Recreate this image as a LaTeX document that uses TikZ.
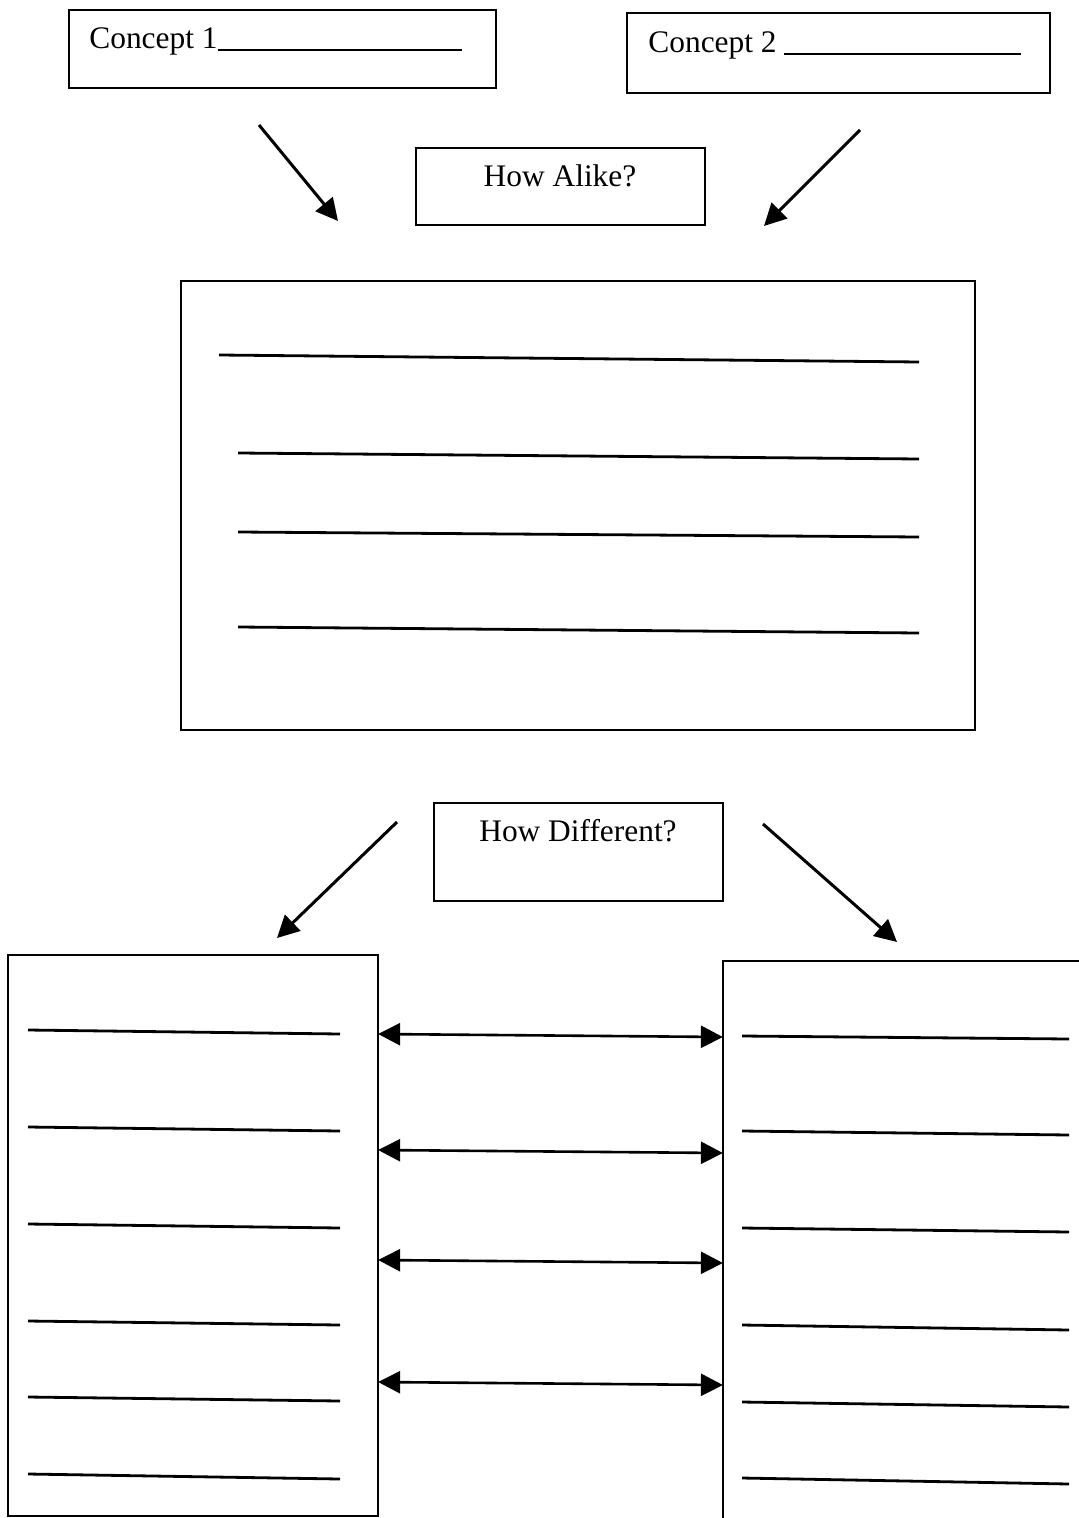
\documentclass[tikz,border=0pt]{standalone}
\usepackage{fontspec}
\setmainfont{Liberation Serif}
\usetikzlibrary{arrows.meta, positioning}

\begin{document}
\begin{tikzpicture}[x=0.5pt, y=-0.5pt, >={Triangle[length=11pt, width=11pt]}]
    \tikzstyle{box} = [draw, line width=1.1pt, inner sep=0pt]
    \tikzstyle{boxtext} = [font=\fontsize{15.7}{18}\selectfont, inner sep=0pt]
    \tikzstyle{pointer} = [->, line width=1.5pt]
    \tikzstyle{writeline} = [line width=1.4pt]
    \fill[white] (0,0) rectangle (1079,1518);
    \useasboundingbox (0,0) rectangle (1079,1518);
    % boxes
    \node [box, minimum width=213.5pt, minimum height=39pt] at (282.5,49) (c1) {};
    \node [box, minimum width=211.5pt, minimum height=40pt] at (838.5,53) (c2) {};
    \node [box, minimum width=144.5pt, minimum height=38.5pt] at (560.5,186.5) (alike) {};
    \node [box, minimum width=397pt, minimum height=224.5pt] at (578,505.5) (same) {};
    \node [box, minimum width=144.5pt, minimum height=49pt] at (578.5,852) (diff) {};
    \node [box, minimum width=185pt, minimum height=280.5pt] at (193,1235.5) (left) {};
    \node [box, minimum width=188.5pt, minimum height=289.5pt] at (911.5,1250.5) (right) {};
    % texts
    \node [boxtext, anchor=base west] at (89,49) (c1text) {Concept 1\rule[-1pt]{122pt}{0.8pt}};
    \node [boxtext, anchor=base west] at (648,53) (c2text) {Concept 2 \rule[-1pt]{118.5pt}{0.8pt}};
    \node [boxtext, anchor=base] at (560,187) (alikelabel) {How Alike?};
    \node [boxtext, anchor=base] at (578,841) (difflabel) {How Different?};
    % arrows
    \coordinate (p1) at (259,125);
    \coordinate (q1) at (338,221);
    \coordinate (p2) at (860,130);
    \coordinate (q2) at (764,226);
    \coordinate (p3) at (397,822);
    \coordinate (q3) at (277,938);
    \coordinate (p4) at (763,824);
    \coordinate (q4) at (897,942);
    \draw[pointer] (p1) -- (q1);
    \draw[pointer] (p2) -- (q2);
    \draw[pointer] (p3) -- (q3);
    \draw[pointer] (p4) -- (q4);
    % lines to write on
    \foreach \ya/\yb/\xa in {355/362/219, 453/459/238, 532/537/238, 627/633/238}
        \draw[writeline] (\xa,\ya) -- (919,\yb);
    \foreach \ya/\yb in {1030/1034, 1127/1131, 1224/1228, 1321/1325, 1397/1401, 1474/1479}
        \draw[writeline] (28,\ya) -- (340,\yb);
    \foreach \ya/\yb in {1036/1039, 1131/1135, 1228/1232, 1325/1330, 1402/1407, 1478/1484}
        \draw[writeline] (742,\ya) -- (1069,\yb);
    % left to right
    \foreach \ya/\yb in {1034/1037, 1150/1153, 1260/1263, 1382/1385}
        \draw[<->, line width=1.3pt, shorten <=-0.5pt, shorten >=-0.5pt] (left.east |- 0,\ya) -- (right.west |- 0,\yb);
\end{tikzpicture}
\end{document}
